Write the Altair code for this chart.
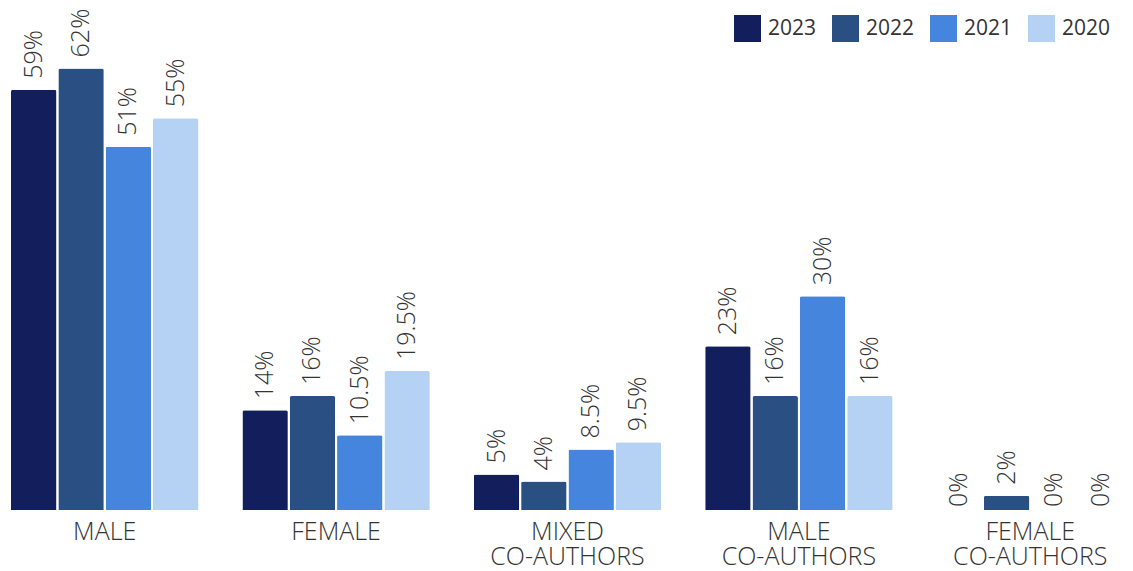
import altair as alt
import pandas as pd

categories = ["MALE", "FEMALE", "MIXED\nCO-AUTHORS", "MALE\nCO-AUTHORS", "FEMALE\nCO-AUTHORS"]
years = ["2023", "2022", "2021", "2020"]
values_2023 = [59, 14, 5, 23, 0]
values_2022 = [62, 16, 4, 16, 2]
values_2021 = [51, 10.5, 8.5, 30, 0]
values_2020 = [55, 19.5, 9.5, 16, 0]
colors = ["#121f5c", "#2a4f82", "#4585dd", "#b5d2f5"]

rows = []
for y, vals in zip(years, [values_2023, values_2022, values_2021, values_2020]):
    for c, v in zip(categories, vals):
        rows.append({"category": c, "year": y, "value": v,
                     "label": (f"{v:g}%")})
df = pd.DataFrame(rows)

FONT = "Open Sans"

x = alt.X("category:N", sort=categories, title=None,
          scale=alt.Scale(paddingInner=0.19, paddingOuter=0),
          axis=alt.Axis(labelExpr="split(datum.label, '\\n')", ticks=False, domain=False,
                        labelAngle=0, labelFontSize=25, labelFont=FONT, labelFontWeight=300,
                        labelColor="#333333", labelPadding=21, labelLineHeight=25,
                        labelBaseline="middle", grid=False))
xo = alt.XOffset("year:N", sort=years, scale=alt.Scale(paddingInner=0.04, paddingOuter=0))
y = alt.Y("value:Q", axis=None, scale=alt.Scale(domain=[0, 70.2]))

base = alt.Chart(df)

bars = base.mark_bar(cornerRadiusTopLeft=2, cornerRadiusTopRight=2).encode(
    x=x, xOffset=xo, y=y,
    color=alt.Color("year:N", sort=years,
                    scale=alt.Scale(domain=years, range=colors),
                    legend=alt.Legend(title=None, orient="none", direction="horizontal",
                                      legendX=723, legendY=5, symbolType="square",
                                      symbolSize=729, symbolStrokeWidth=0, symbolOpacity=1,
                                      labelFontSize=21, labelFont=FONT, labelColor="#333333",
                                      labelOffset=7, columnPadding=15)),
)

labels = base.transform_filter("datum.value > 0").mark_text(
    angle=270, align="left", baseline="middle", dx=11, fontSize=25, font=FONT,
    fontWeight=300, color="#333333"
).encode(x=x, xOffset=xo, y=y, text="label:N")

zero_labels = base.transform_filter("datum.value == 0").mark_text(
    angle=270, align="left", baseline="middle", dx=3, fontSize=25, font=FONT,
    fontWeight=300, color="#333333"
).encode(x=x, xOffset=xo, y=y, text="label:N")

chart = alt.layer(bars, labels, zero_labels).properties(
    width=1113, height=500,
    padding={"left": 3, "top": 0, "right": 0, "bottom": 0},
).configure_view(stroke=None)

chart.save("out.html", embed_options={"renderer": "svg", "actions": False})
